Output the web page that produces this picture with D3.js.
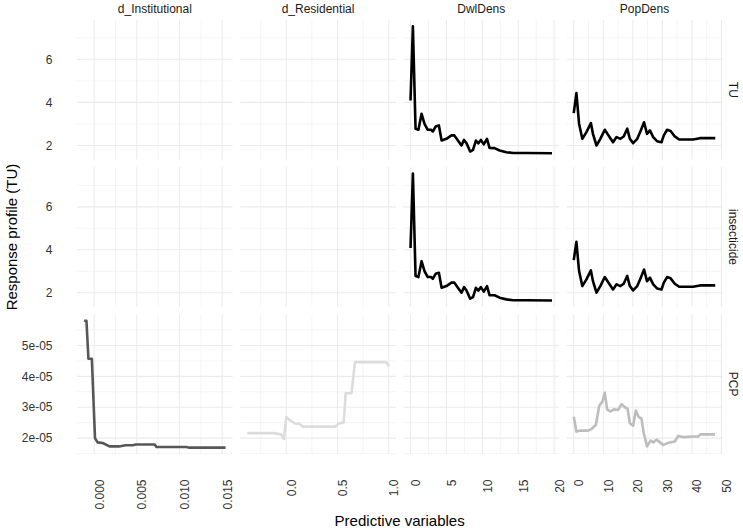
<!DOCTYPE html>
<html>
<head>
<meta charset="utf-8">
<script src="https://cdn.jsdelivr.net/npm/d3@7"></script>
<style>
  body { margin: 0; background: #fff; }
  text { font-family: "Liberation Sans", Arial, sans-serif; }
</style>
</head>
<body>
<svg id="chart" width="743" height="531" viewBox="0 0 743 531"></svg>
<script>
// facet labels
const rowNames = ["TU", "insecticide", "PCP"];
const colNames = ["d_Institutional", "d_Residential", "DwlDens", "PopDens"];

// tick breaks per column / row
const colTicks = [
  [0, 0.005, 0.010, 0.015],
  [0, 0.5, 1.0],
  [0, 5, 10, 15, 20],
  [0, 10, 20, 30, 40, 50]
];
const colFormats = [".3f", ".1f", "d", "d"];
const rowTicks = [
  [2, 4, 6],
  [2, 4, 6],
  [2e-5, 3e-5, 4e-5, 5e-5]
];

// TU
const dwlX = [0, 0.33, 0.7, 1.1, 1.54, 1.95, 2.4, 2.85, 3.1, 3.5, 3.95, 4.33, 5.0, 5.7, 6.1, 6.6, 7.1, 7.45, 7.8, 8.3, 8.7, 9.1, 9.45, 9.8, 10.2, 10.65, 11.0, 11.7, 12.4, 13.35, 14.3, 16.15, 19.7];
const dwlTU = [4.09, 7.53, 2.78, 2.73, 3.47, 3.0, 2.73, 2.73, 2.65, 2.88, 2.93, 2.23, 2.31, 2.47, 2.47, 2.23, 2.0, 2.26, 2.1, 1.72, 1.8, 2.23, 2.1, 2.26, 2.05, 2.31, 1.89, 1.88, 1.77, 1.69, 1.65, 1.65, 1.64];
const popX = [0, 0.9, 1.8, 2.9, 4.3, 5.8, 6.5, 7.7, 9.0, 10.5, 12.0, 13.3, 14.5, 15.8, 16.9, 18.1, 19.0, 20.1, 21.5, 22.7, 23.8, 24.8, 25.8, 26.9, 28.2, 29.7, 30.5, 31.6, 32.8, 34.2, 35.7, 40.4, 42.7, 47.9];
const popTU = [3.5, 4.43, 3.01, 2.31, 2.62, 3.04, 2.54, 2.0, 2.31, 2.73, 2.42, 2.15, 2.39, 2.31, 2.42, 2.78, 2.31, 2.11, 2.31, 2.70, 3.08, 2.54, 2.70, 2.39, 2.2, 2.15, 2.47, 2.73, 2.67, 2.42, 2.28, 2.28, 2.34, 2.34];

// insecticide
const dwlIns = [4.08, 7.55, 2.78, 2.73, 3.47, 3.0, 2.73, 2.73, 2.65, 2.88, 2.93, 2.23, 2.31, 2.47, 2.47, 2.23, 2.0, 2.26, 2.1, 1.72, 1.8, 2.23, 2.1, 2.26, 2.05, 2.31, 1.89, 1.88, 1.77, 1.69, 1.65, 1.65, 1.64];
const popIns = [3.52, 4.37, 3.01, 2.31, 2.62, 3.04, 2.54, 2.0, 2.31, 2.73, 2.42, 2.15, 2.39, 2.31, 2.42, 2.78, 2.31, 2.11, 2.31, 2.70, 3.08, 2.54, 2.70, 2.39, 2.2, 2.15, 2.47, 2.73, 2.67, 2.42, 2.28, 2.28, 2.34, 2.34];

// PCP
const instX = [-0.00118, -0.0009, -0.00067, -0.00027, 0.0001, 0.0004, 0.001, 0.0018, 0.0029, 0.0037, 0.0045, 0.0049, 0.0071, 0.0073, 0.0108, 0.0112, 0.0154];
const instPCP = [5.80e-5, 5.80e-5, 4.57e-5, 4.57e-5, 2.0e-5, 1.86e-5, 1.84e-5, 1.73e-5, 1.73e-5, 1.77e-5, 1.77e-5, 1.79e-5, 1.79e-5, 1.71e-5, 1.71e-5, 1.69e-5, 1.69e-5];
const resX = [-0.38, -0.13, -0.05, -0.023, 0.0, 0.032, 0.08, 0.13, 0.16, 0.48, 0.513, 0.56, 0.58, 0.636, 0.67, 0.975, 1.0];
const resPCP = [2.16e-5, 2.16e-5, 2.12e-5, 1.97e-5, 2.68e-5, 2.59e-5, 2.48e-5, 2.46e-5, 2.37e-5, 2.37e-5, 2.48e-5, 2.5e-5, 3.45e-5, 3.45e-5, 4.46e-5, 4.46e-5, 4.32e-5];
const popPcpX = [0, 0.9, 2.0, 4.9, 6.0, 7.5, 8.6, 9.7, 10.5, 11.3, 12.4, 13.6, 15.0, 16.2, 17.3, 18.2, 19.0, 20.1, 21.0, 22.0, 22.9, 23.7, 24.8, 26.0, 26.9, 28.0, 30.3, 32.5, 34.2, 35.4, 37.3, 40.4, 42.1, 42.9, 47.8];
const popPCP = [2.69e-5, 2.21e-5, 2.24e-5, 2.24e-5, 2.29e-5, 2.43e-5, 3.04e-5, 3.18e-5, 3.47e-5, 2.93e-5, 2.86e-5, 2.93e-5, 2.91e-5, 3.10e-5, 3.0e-5, 2.96e-5, 2.48e-5, 2.40e-5, 2.89e-5, 2.68e-5, 2.64e-5, 2.16e-5, 1.73e-5, 1.92e-5, 1.86e-5, 1.95e-5, 1.78e-5, 1.86e-5, 1.89e-5, 2.07e-5, 2.03e-5, 2.05e-5, 2.05e-5, 2.12e-5, 2.12e-5];

const series = [
  { row: 0, col: 2, x: dwlX, y: dwlTU, color: "#000000" },
  { row: 0, col: 3, x: popX, y: popTU, color: "#000000" },
  { row: 1, col: 2, x: dwlX, y: dwlIns, color: "#000000" },
  { row: 1, col: 3, x: popX, y: popIns, color: "#000000" },
  { row: 2, col: 0, x: instX, y: instPCP, color: "#575757" },
  { row: 2, col: 1, x: resX, y: resPCP, color: "#dcdcdc" },
  { row: 2, col: 3, x: popPcpX, y: popPCP, color: "#bdbdbd" }
];

// --- layout ---
const svg = d3.select("#chart");
const plotL = 77, plotR = 722.3, plotT = 20, plotB = 454, gap = 7.6;
const pw = (plotR - plotL - 3 * gap) / 4;
const ph = (plotB - plotT - 2 * gap) / 3;
const gridColor = "#ebebeb";

// ggplot-like 5% expansion of the data range
function expanded(vals) {
  const [lo, hi] = d3.extent(vals);
  const pad = (hi - lo) * 0.05;
  return [lo - pad, hi + pad];
}
function minorBreaks(major, domain) {
  const step = major[1] - major[0];
  const out = [];
  for (let i = -1; i < major.length; i++) {
    const m = major[0] + (i + 0.5) * step;
    if (m >= domain[0] && m <= domain[1]) out.push(m);
  }
  return out;
}

const xScales = colNames.map((c, ci) => {
  const vals = series.filter(s => s.col === ci).flatMap(s => s.x);
  const x0 = plotL + ci * (pw + gap);
  return d3.scaleLinear().domain(expanded(vals)).range([x0, x0 + pw]);
});
const yScales = rowNames.map((r, ri) => {
  const vals = series.filter(s => s.row === ri).flatMap(s => s.y);
  const y0 = plotT + ri * (ph + gap);
  return d3.scaleLinear().domain(expanded(vals)).range([y0 + ph, y0]);
});

const fmtSci = v => v.toExponential(0).replace(/e([+-])(\d)$/, "e$10$2");

// panels with grid
rowNames.forEach((r, ri) => {
  colNames.forEach((c, ci) => {
    const xs = xScales[ci], ys = yScales[ri];
    const [x0, x1] = xs.range();
    const [y1, y0] = ys.range();
    const g = svg.append("g");
    minorBreaks(rowTicks[ri], ys.domain()).forEach(v => {
      g.append("line").attr("x1", x0).attr("x2", x1).attr("y1", ys(v)).attr("y2", ys(v))
        .attr("stroke", gridColor).attr("stroke-width", 0.55);
    });
    minorBreaks(colTicks[ci], xs.domain()).forEach(v => {
      g.append("line").attr("x1", xs(v)).attr("x2", xs(v)).attr("y1", y0).attr("y2", y1)
        .attr("stroke", gridColor).attr("stroke-width", 0.55);
    });
    rowTicks[ri].forEach(v => {
      g.append("line").attr("x1", x0).attr("x2", x1).attr("y1", ys(v)).attr("y2", ys(v))
        .attr("stroke", gridColor).attr("stroke-width", 1.1);
    });
    colTicks[ci].forEach(v => {
      g.append("line").attr("x1", xs(v)).attr("x2", xs(v)).attr("y1", y0).attr("y2", y1)
        .attr("stroke", gridColor).attr("stroke-width", 1.1);
    });
  });
});

// lines
series.forEach(s => {
  const xs = xScales[s.col], ys = yScales[s.row];
  const line = d3.line().x(d => xs(d[0])).y(d => ys(d[1]));
  svg.append("path")
    .datum(d3.zip(s.x, s.y))
    .attr("d", line)
    .attr("fill", "none")
    .attr("stroke", s.color)
    .attr("stroke-width", 2.6)
    .attr("stroke-linejoin", "round");
});

// y tick labels
rowNames.forEach((r, ri) => {
  const fmt = ri === 2 ? fmtSci : d3.format("d");
  rowTicks[ri].forEach(v => {
    svg.append("text")
      .attr("x", 52.5).attr("y", yScales[ri](v))
      .attr("dy", "0.35em")
      .attr("text-anchor", "end")
      .attr("font-size", 12)
      .attr("fill", "#333")
      .text(fmt(v));
  });
});

// x tick labels (rotated)
colNames.forEach((c, ci) => {
  const fmt = d3.format(colFormats[ci]);
  colTicks[ci].forEach(v => {
    svg.append("text")
      .attr("transform", `translate(${xScales[ci](v) + 9.6},479.5) rotate(-90)`)
      .attr("text-anchor", "end")
      .attr("font-size", 12)
      .attr("fill", "#333")
      .text(fmt(v));
  });
});

// strips
colNames.forEach((c, ci) => {
  const [x0, x1] = xScales[ci].range();
  svg.append("text")
    .attr("x", (x0 + x1) / 2).attr("y", 12.5)
    .attr("text-anchor", "middle")
    .attr("font-size", 12)
    .attr("fill", "#1a1a1a")
    .text(c);
});
rowNames.forEach((r, ri) => {
  const [y1, y0] = yScales[ri].range();
  svg.append("text")
    .attr("transform", `translate(733,${(y0 + y1) / 2}) rotate(90)`)
    .attr("text-anchor", "middle")
    .attr("dy", "0.35em")
    .attr("font-size", 12)
    .attr("fill", "#1a1a1a")
    .text(r);
});

// axis titles
svg.append("text")
  .attr("x", (plotL + plotR) / 2).attr("y", 526)
  .attr("text-anchor", "middle")
  .attr("font-size", 15)
  .text("Predictive variables");
svg.append("text")
  .attr("transform", `translate(17,${(plotT + plotB) / 2}) rotate(-90)`)
  .attr("text-anchor", "middle")
  .attr("font-size", 15)
  .text("Response profile (TU)");
</script>
</body>
</html>
